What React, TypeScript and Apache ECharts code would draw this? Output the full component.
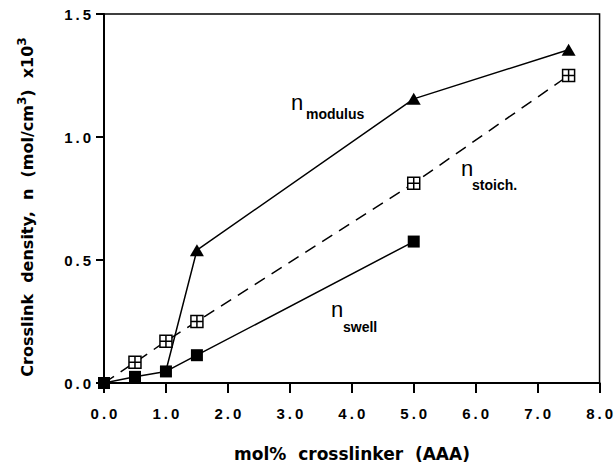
import React, { useEffect, useRef } from "react";
import * as echarts from "echarts";

const modulusX = [1.0, 1.5, 5.0, 7.5];
const modulusY = [0.05, 0.54, 1.155, 1.355];
const swellX = [0.0, 0.5, 1.0, 1.5, 5.0];
const swellY = [0.0, 0.025, 0.047, 0.113, 0.575];
const stoichX = [0.0, 0.5, 1.0, 1.5, 5.0, 7.5];
const stoichY = [0.0, 0.084, 0.17, 0.25, 0.812, 1.25];
const xAxisTitle = "mol%  crosslinker  (AAA)";
const yAxisTitle = "Crosslink  density,  n  (mol/cm{sup|3})  x10{sup|3}";

const spaced = (s: string) => s.split("").join("\u2009");

const crossSquare = "path://M0,0 L10,0 L10,10 L0,10 Z M5,0 L5,10 M0,5 L10,5";

export default function App() {
  const ref = useRef<HTMLDivElement>(null);
  useEffect(() => {
    if (!ref.current) return;
    const chart = echarts.init(ref.current, null, { renderer: "svg" });
    const font = "Liberation Sans, Arial, sans-serif";
    const titleFont = "DejaVu Sans, Liberation Sans, sans-serif";
    chart.setOption({
      animation: false,
      backgroundColor: "#fff",
      grid: {
        left: 104,
        right: 15,
        top: 14,
        bottom: 81,
        show: true,
        borderColor: "#000",
        borderWidth: 1.5,
        backgroundColor: "transparent",
      },
      xAxis: {
        type: "value",
        min: 0,
        max: 8,
        interval: 1,
        axisLine: { lineStyle: { color: "#000", width: 2 } },
        axisTick: { length: 10, inside: false, lineStyle: { color: "#000", width: 2 } },
        splitLine: { show: false },
        axisLabel: {
          margin: 23,
          color: "#000",
          fontFamily: font,
          fontSize: 15,
          fontWeight: "bold",
          formatter: (v: number) => spaced(v.toFixed(1)),
        },
      },
      yAxis: {
        type: "value",
        min: 0,
        max: 1.5,
        interval: 0.5,
        axisLine: { lineStyle: { color: "#000", width: 2 } },
        axisTick: { length: 8, inside: false, lineStyle: { color: "#000", width: 2 } },
        splitLine: { show: false },
        axisLabel: {
          margin: 13,
          color: "#000",
          fontFamily: font,
          fontSize: 15,
          fontWeight: "bold",
          formatter: (v: number) => spaced(v.toFixed(1)),
        },
      },
      series: [
        {
          name: "n modulus",
          type: "line",
          z: 2,
          data: modulusX.map((x, i) =>
            i === 0 ? { value: [x, modulusY[i]], symbol: "none" } : [x, modulusY[i]]
          ),
          symbol: "triangle",
          symbolSize: [14, 12],
          lineStyle: { color: "#000", width: 1.5 },
          itemStyle: { color: "#000" },
        },
        {
          name: "n stoich.",
          type: "line",
          z: 3,
          data: stoichX.map((x, i) =>
            i === 0 ? { value: [x, stoichY[i]], symbol: "none" } : [x, stoichY[i]]
          ),
          symbol: crossSquare,
          symbolSize: 12,
          symbolKeepAspect: true,
          lineStyle: { color: "#000", width: 1.5, type: [12, 8] },
          itemStyle: { color: "#fff", borderColor: "#000", borderWidth: 1.5 },
        },
        {
          name: "n swell",
          type: "line",
          z: 4,
          data: swellX.map((x, i) => [x, swellY[i]]),
          symbol: "rect",
          symbolSize: 12,
          lineStyle: { color: "#000", width: 1.5 },
          itemStyle: { color: "#000" },
        },
      ],
      graphic: [
        {
          type: "text",
          x: 27,
          y: 207,
          rotation: Math.PI / 2,
          style: {
            text: yAxisTitle,
            fontFamily: titleFont,
            fontSize: 16,
            fontWeight: "bold",
            fill: "#000",
            align: "center",
            verticalAlign: "middle",
            lineHeight: 22,
            rich: {
              sup: {
                fontFamily: titleFont,
                fontSize: 12,
                fontWeight: "bold",
                fill: "#000",
                verticalAlign: "top",
                lineHeight: 12,
              },
            },
          },
        },
        {
          type: "text",
          x: 352,
          y: 454,
          style: {
            text: xAxisTitle,
            fontFamily: titleFont,
            fontSize: 17,
            fontWeight: "bold",
            fill: "#000",
            align: "center",
            verticalAlign: "middle",
          },
        },
        { type: "text", x: 291, y: 102, style: { text: "n", fontFamily: font, fontSize: 22, fill: "#000", verticalAlign: "middle" } },
        { type: "text", x: 306, y: 114, style: { text: "modulus", fontFamily: font, fontSize: 14, fontWeight: "bold", fill: "#000", verticalAlign: "middle" } },
        { type: "text", x: 461, y: 168, style: { text: "n", fontFamily: font, fontSize: 22, fill: "#000", verticalAlign: "middle" } },
        { type: "text", x: 472, y: 185, style: { text: "stoich.", fontFamily: font, fontSize: 14, fontWeight: "bold", fill: "#000", verticalAlign: "middle" } },
        { type: "text", x: 331, y: 309, style: { text: "n", fontFamily: font, fontSize: 22, fill: "#000", verticalAlign: "middle" } },
        { type: "text", x: 343, y: 327, style: { text: "swell", fontFamily: font, fontSize: 14, fontWeight: "bold", fill: "#000", verticalAlign: "middle" } },
      ],
    });
    return () => chart.dispose();
  }, []);
  return (
    <div
      ref={ref}
      style={{ position: "fixed", left: 0, top: 0, width: 616, height: 464 }}
    />
  );
}
